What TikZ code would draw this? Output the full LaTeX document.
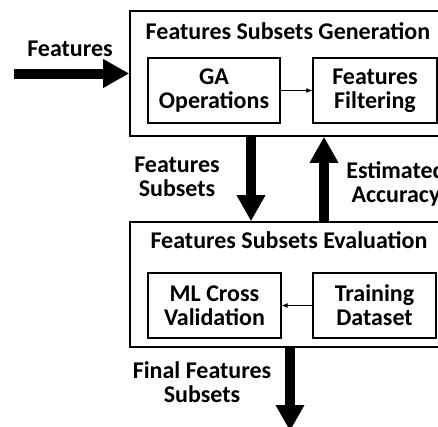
\documentclass[tikz,border=0pt]{standalone}
\usepackage{fontspec}
\setmainfont{Carlito}
\usetikzlibrary{arrows.meta}

\tikzset{
  every node/.style={font=\bfseries\fontsize{24}{24}\selectfont},
  outerbox/.style={draw, line width=1.6pt, minimum width=316pt, minimum height=125pt, inner sep=0pt},
  innerbox/.style={draw, line width=1.4pt, minimum height=65pt, align=center, inner sep=0pt},
  fatarrow/.style={line width=10pt, -{Triangle[width=27pt,length=26pt]}},
  thinarrow/.style={line width=1pt, -{Latex[length=6pt,width=5pt]}},
  lbl/.style={align=center}
}

\begin{document}
\begin{tikzpicture}[x=1pt,y=1pt]
  \useasboundingbox (0,0) rectangle (438,-426);

  % generation block
  \node[outerbox] (gen) at (288,-73.5) {};
  \node (gentitle) at (288,-31) {Features Subsets Generation};
  \node[innerbox, minimum width=132pt] (ga) at (214,-90.5) {GA\\Operations};
  \node[innerbox, minimum width=124pt] (filter) at (375,-90.5) {Features\\Filtering};
  \draw[thinarrow] (ga) -- (filter);

  % evaluation block
  \node[outerbox] (eval) at (288,-284.5) {};
  \node (evaltitle) at (289,-240) {Features Subsets Evaluation};
  \node[innerbox, minimum width=133pt] (mlcv) at (214.5,-305.5) {ML Cross\\Validation};
  \node[innerbox, minimum width=123pt] (train) at (374.5,-305.5) {Training\\Dataset};
  \draw[thinarrow] (train) -- (mlcv);

  % flows
  \coordinate (start) at (14,-73.5);
  \coordinate (finish) at (290,-431);
  \draw[fatarrow] (start) -- (gen.west);
  \draw[fatarrow] ([xshift=-37pt]gen.south) -- ([xshift=-37pt]eval.north);
  \draw[fatarrow] ([xshift=36pt]eval.north) -- ([xshift=36pt]gen.south);
  \draw[fatarrow] ([xshift=2pt]eval.south) -- (finish);

  \node[lbl] (featin) at (70,-49) {Features};
  \node[lbl] (featsub) at (177,-177) {Features\\Subsets};
  \node[lbl] (estacc) at (396,-184) {Estimated\\Accuracy};
  \node[lbl] (finalsub) at (202,-382) {Final Features\\Subsets};
\end{tikzpicture}
\end{document}
